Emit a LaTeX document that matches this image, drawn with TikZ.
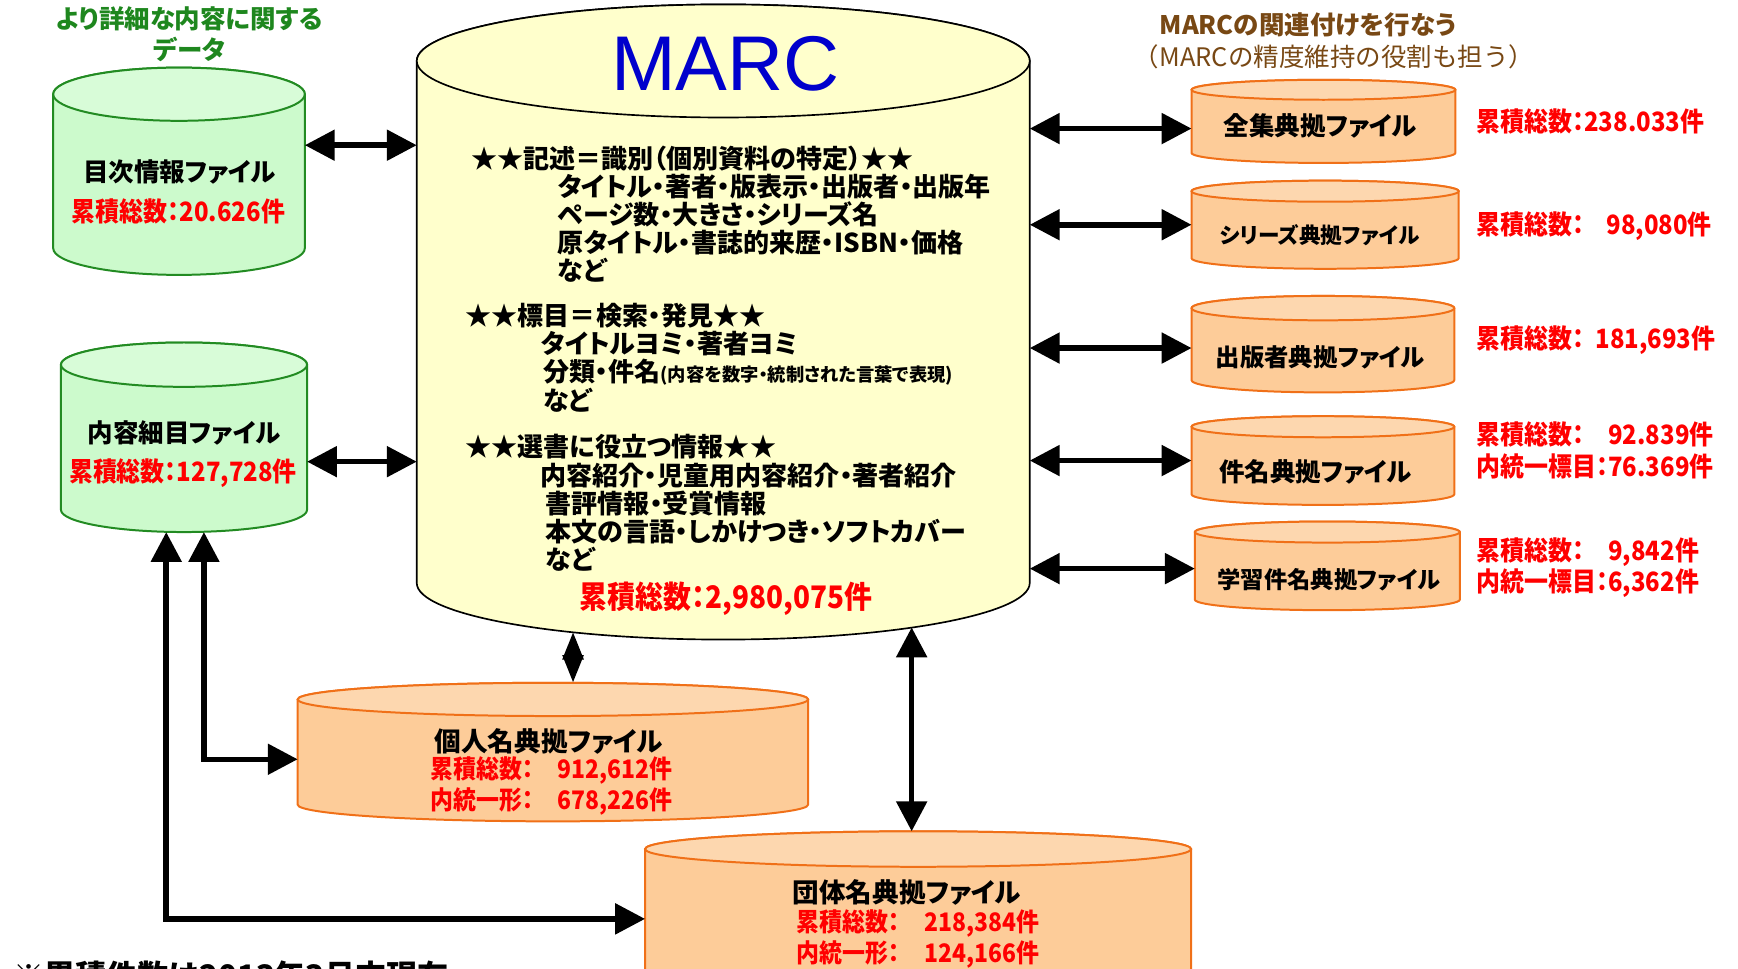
\documentclass[tikz,border=0pt]{standalone}
\usepackage{fontspec}
\setmainfont{Noto Sans CJK JP}[RawFeature=+palt]
\newfontfamily\jpfull{Noto Sans CJK JP}
\newfontfamily\countfont{Noto Sans CJK JP}[RawFeature=+palt, FakeStretch=0.9]
\newfontfamily\marcfont{Liberation Sans}
\usetikzlibrary{arrows.meta,calc}

\definecolor{gfill}{RGB}{204,250,204}
\definecolor{gtop}{RGB}{216,252,216}
\definecolor{gline}{RGB}{34,139,34}
\definecolor{ofill}{RGB}{253,204,153}
\definecolor{otop}{RGB}{253,215,175}
\definecolor{oline}{RGB}{240,112,24}
\definecolor{mfill}{RGB}{255,255,204}
\definecolor{marcblue}{RGB}{0,0,204}
\definecolor{hdgreen}{RGB}{30,135,30}
\definecolor{hdbrown}{RGB}{120,72,20}

\tikzset{
	gfile/.style={fill=gfill, draw=gline, line width=1.8pt},
	gfile top/.style={fill=gtop},
	ofile/.style={fill=ofill, draw=oline, line width=1.8pt},
	ofile top/.style={fill=otop},
	mfile/.style={fill=mfill, draw=black, line width=1.5pt},
	mfile top/.style={fill=mfill},
	link/.style={line width=5pt, {Triangle[length=27pt,width=27pt]}-{Triangle[length=27pt,width=27pt]}},
	shortlink/.style={line width=5pt, {Triangle[length=25pt,width=18pt]}-{Triangle[length=25pt,width=18pt]}},
	fname/.style={font=\bfseries\fontsize{23}{25}\selectfont, inner sep=0},
	count/.style={text=red, font=\countfont\bfseries\fontsize{24}{26}\selectfont, inner sep=0},
	marcline/.style={font=\bfseries\fontsize{23.5}{25.5}\selectfont, anchor=west, inner sep=0},
}

% name, style, left, right, top centre, bottom centre, y radius
\newcommand{\dbfile}[7]{%
	\pgfmathsetmacro\dbcx{(#3+#4)/2}
	\pgfmathsetmacro\dbrx{(#4-#3)/2}
	\pgfmathsetmacro\dbcy{(#5+#6)/2}
	\pgfmathsetmacro\dbw{#4-#3}
	\pgfmathsetmacro\dbh{#6-#5+2*#7}
	\filldraw[#2] (#3,#5) -- (#3,#6) arc[start angle=180, end angle=0, x radius=\dbrx, y radius=#7]
		-- (#4,#5) arc[start angle=0, end angle=-180, x radius=\dbrx, y radius=#7] -- cycle;
	\filldraw[#2, #2 top] (\dbcx,#5) ellipse[x radius=\dbrx, y radius=#7];
	\node[minimum width=\dbw pt, minimum height=\dbh pt, inner sep=0, outer sep=0] (#1) at (\dbcx,\dbcy) {};
}

\begin{document}
\begin{tikzpicture}[x=1pt, y=-1pt]
	\useasboundingbox (0,0) rectangle (1568,874);

	% cylinders
	\dbfile{marc}{mfile}{376}{929}{55}{526}{51}
	\dbfile{mokuji}{gfile}{48}{275}{85}{224}{24}
	\dbfile{naiyo}{gfile}{55}{277}{329}{460}{20}
	\dbfile{zenshu}{ofile}{1075}{1313}{81}{138}{9}
	\dbfile{series}{ofile}{1075}{1316}{172.5}{233}{9.5}
	\dbfile{shuppan}{ofile}{1075}{1312}{278}{343}{11}
	\dbfile{kenmei}{ofile}{1075}{1312}{385}{446}{9.5}
	\dbfile{gakushu}{ofile}{1078}{1317}{480}{541}{9.5}
	\dbfile{kojin}{ofile}{268.6}{729}{631}{726}{15}
	\dbfile{dantai}{ofile}{582}{1074.6}{766}{905}{16}

	% headings
	\node[font=\bfseries\fontsize{23}{28.5}\selectfont, text=hdgreen, align=center] (detailhead) at (171,31) {より詳細な内容に関する\\データ};
	\node[font=\bfseries\fontsize{23}{24}\selectfont, text=hdbrown] (linkhead) at (1180,22.5) {MARCの関連付けを行なう};
	\node[font=\jpfull\fontsize{23}{24}\selectfont, text=hdbrown] (linksub) at (1203.5,51) {（MARCの精度維持の役割も担う）};

	% MARC
	\node[font=\marcfont\fontsize{70}{70}\selectfont, text=marcblue] (marctitle) at (654.5,57.6) {MARC};
	\foreach \x/\y/\txt in {
			425/143/{★★記述＝識別（個別資料の特定）★★},
			503/168/{タイトル・著者・版表示・出版者・出版年},
			503/193/{ページ数・大きさ・シリーズ名},
			503/219/{原タイトル・書誌的来歴・ISBN・価格},
			503/244/{など},
			420/285/{★★標目＝検索・発見★★},
			488/310/{タイトルヨミ・著者ヨミ},
			490/336/{分類・件名{\fontsize{16.5}{17}\selectfont(内容を数字・統制された言葉で表現)}},
			490/361/{など},
			420/403/{★★選書に役立つ情報★★},
			487/429/{内容紹介・児童用内容紹介・著者紹介},
			492/454/{書評情報・受賞情報},
			492/480/{本文の言語・しかけつき・ソフトカバー},
			492/505/{など}}
		\node[marcline] (line\y) at (\x,\y) {\txt};
	\node[count, font=\countfont\bfseries\fontsize{28}{29}\selectfont] (marccount) at (655,540) {累積総数：2,980,075件};

	% left files
	\node[fname] (mokujiname) at (162,155) {目次情報ファイル};
	\node[count] (mokujicount) at (161,191) {累積総数：20.626件};
	\node[fname] (naiyoname) at (166,391) {内容細目ファイル};
	\node[count] (naiyocount) at (165,427) {累積総数：127,728件};

	% right files
	\node[fname] (zenshuname) at (1191,114) {全集典拠ファイル};
	\node[fname, font=\bfseries\fontsize{19.5}{21}\selectfont] (seriesname) at (1190.5,212) {シリーズ典拠ファイル};
	\node[fname, font=\bfseries\fontsize{22}{24}\selectfont] (shuppanname) at (1191,322) {出版者典拠ファイル};
	\node[fname] (kenmeiname) at (1187,426) {件名典拠ファイル};
	\node[fname, font=\bfseries\fontsize{21}{23}\selectfont] (gakushuname) at (1199,523) {学習件名典拠ファイル};
	\node[count, anchor=west] (zenshucount) at (1332,110) {累積総数：238.033件};
	\node[count, anchor=west] (seriescount) at (1332,204) {累積総数：\hspace{20pt}98,080件};
	\node[count, anchor=west] (shuppancount) at (1332,307) {累積総数：\hspace{10pt}181,693件};
	\node[count, anchor=west] (kenmeicount) at (1332,409) {\begin{tabular}{@{}l@{}r@{}}累積総数：&92.839件\\内統一標目：&76.369件\end{tabular}};
	\node[count, anchor=west] (gakushucount) at (1332,513.4) {\begin{tabular}{@{}l@{}r@{}}累積総数：&9,842件\\内統一標目：&6,362件\end{tabular}};

	% bottom files
	\node[fname, font=\bfseries\fontsize{24}{26}\selectfont] (kojinname) at (495,669) {個人名典拠ファイル};
	\node[count, font=\countfont\bfseries\fontsize{23}{26}\selectfont] (kojincount) at (497.5,710.5) {\begin{tabular}{@{}l@{\hspace{22pt}}r@{}}累積総数：&912,612件\\内統一形：&678,226件\end{tabular}};
	\node[fname, font=\bfseries\fontsize{24}{26}\selectfont] (dantainame) at (818,805) {団体名典拠ファイル};
	\node[count, font=\countfont\bfseries\fontsize{23}{26}\selectfont] (dantaicount) at (828,848.5) {\begin{tabular}{@{}l@{\hspace{22pt}}r@{}}累積総数：&218,384件\\内統一形：&124,166件\end{tabular}};

	\node[font=\bfseries\fontsize{28}{30}\selectfont, anchor=north west, inner sep=0] (note) at (12,867) {※累積件数は2013年3月末現在};

	% connectors
	\path ($(mokuji.east)+(0,-23.5)$) coordinate (mokujiout);
	\path ($(naiyo.east)+(0,22)$) coordinate (naiyoout);
	\draw[link] (mokujiout) -- (marc.west |- mokujiout);
	\draw[link] (naiyoout) -- (marc.west |- naiyoout);
	\foreach \f/\dy in {zenshu/6.5, series/0, shuppan/3.5, kenmei/0, gakushu/2.5} {
		\path ($(\f.west)+(0,\dy)$) coordinate (\f in);
		\draw[link] (marc.east |- \f in) -- (\f in);
	}
	\coordinate (marcleft) at (517,570);
	\coordinate (marcright) at (822.5,566);
	\draw[shortlink] (marcleft) -- (kojin.north -| marcleft);
	\draw[link] (marcright) -- (dantai.north -| marcright);
	\coordinate (busA) at (150,829);
	\coordinate (busB) at (184,685);
	\draw[link] (naiyo.south -| busA) -- (busA) -- (dantai.west |- busA);
	\draw[link] (naiyo.south -| busB) -- (busB) -- (kojin.west |- busB);
\end{tikzpicture}
\end{document}
